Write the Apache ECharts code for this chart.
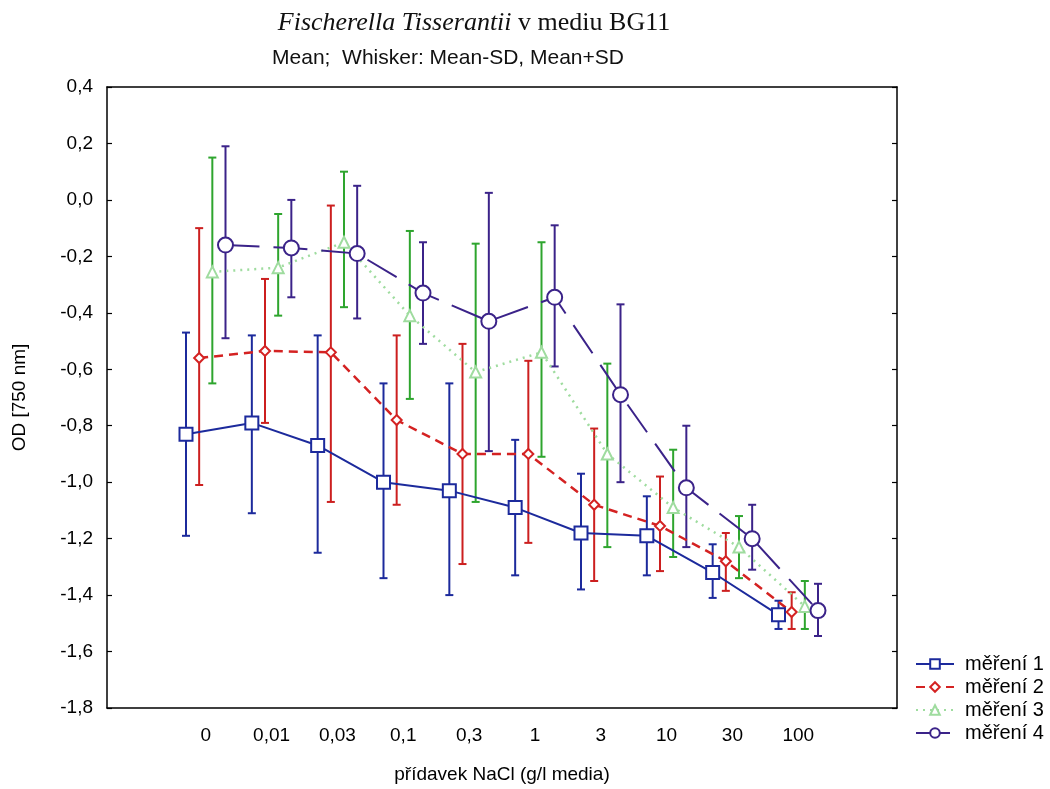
<!DOCTYPE html>
<html><head><meta charset="utf-8">
<script src="https://cdn.jsdelivr.net/npm/echarts@6/dist/echarts.min.js"></script>
<style>html,body{margin:0;padding:0;background:#fff}#c{width:1050px;height:789px}</style>
</head><body><div id="c"></div>
<script>
// Categories (blank slots at both ends, as in the original axis)
const categories = ['', '0', '0,01', '0,03', '0,1', '0,3', '1', '3', '10', '30', '100', ''];
const seriesNames = ['měření 1', 'měření 2', 'měření 3', 'měření 4'];
const yTicks = [-1.8, -1.6, -1.4, -1.2, -1.0, -0.8, -0.6, -0.4, -0.2, 0.0, 0.2, 0.4];

// měření 1
const mean1 = [-0.83, -0.79, -0.87, -1.00, -1.03, -1.09, -1.18, -1.19, -1.32, -1.47];
const low1  = [-1.19, -1.11, -1.25, -1.34, -1.40, -1.33, -1.38, -1.33, -1.41, -1.52];
const high1 = [-0.47, -0.48, -0.48, -0.65, -0.65, -0.85, -0.97, -1.05, -1.22, -1.42];
// měření 2
const mean2 = [-0.56, -0.535, -0.54, -0.78, -0.90, -0.90, -1.08, -1.155, -1.28, -1.46];
const low2  = [-1.01, -0.79, -1.07, -1.08, -1.29, -1.215, -1.35, -1.315, -1.385, -1.52];
const high2 = [-0.10, -0.28, -0.02, -0.48, -0.51, -0.57, -0.81, -0.98, -1.18, -1.39];
// měření 3
const mean3 = [-0.255, -0.24, -0.15, -0.41, -0.61, -0.54, -0.90, -1.09, -1.23, -1.44];
const low3  = [-0.65, -0.41, -0.38, -0.705, -1.07, -0.91, -1.23, -1.265, -1.34, -1.52];
const high3 = [0.15, -0.05, 0.10, -0.11, -0.155, -0.15, -0.58, -0.885, -1.12, -1.35];
// měření 4
const mean4 = [-0.16, -0.17, -0.19, -0.33, -0.43, -0.345, -0.69, -1.02, -1.20, -1.455];
const low4  = [-0.49, -0.345, -0.42, -0.51, -0.89, -0.59, -1.00, -1.23, -1.31, -1.545];
const high4 = [0.19, 0.00, 0.05, -0.15, 0.025, -0.09, -0.37, -0.80, -1.08, -1.36];

const means = [mean1, mean2, mean3, mean4];
const lows = [low1, low2, low3, low4];
const highs = [high1, high2, high3, high4];

// styling
const offsets = [-0.3, -0.1, 0.1, 0.3];
const lineColors = ['#1c2a9c', '#d42222', '#9fdc9f', '#3b2389'];
const errColors = ['#1c2a9c', '#cc1f1f', '#2ea52e', '#3b2389'];
const lineTypes = ['solid', [9, 6], [2, 5], [34, 14]];
const lineWidths = [2, 2.5, 2.5, 2];
const symbols = ['rect', 'diamond', 'triangle', 'circle'];
const symbolSizes = [13, 10, 11, 15];

const FONT = 'Liberation Sans, Arial, sans-serif';
const SERIF = 'Liberation Serif, Times New Roman, serif';

function renderErr(params, api) {
  const x = api.value(0), lo = api.value(1), hi = api.value(2);
  const p1 = api.coord([x, hi]), p2 = api.coord([x, lo]);
  const w = 4;
  const style = { stroke: api.visual('color'), lineWidth: 2 };
  return {
    type: 'group', children: [
      { type: 'line', shape: { x1: p1[0], y1: p1[1], x2: p2[0], y2: p2[1] }, style: style },
      { type: 'line', shape: { x1: p1[0] - w, y1: p1[1], x2: p1[0] + w, y2: p1[1] }, style: style },
      { type: 'line', shape: { x1: p2[0] - w, y1: p2[1], x2: p2[0] + w, y2: p2[1] }, style: style }
    ]
  };
}

const series = [];
for (let s = 0; s < 4; s++) {
  series.push({
    name: 'err' + s,
    type: 'custom',
    xAxisIndex: 2, yAxisIndex: 0,
    renderItem: renderErr,
    itemStyle: { color: errColors[s] },
    data: means[s].map((v, j) => [j + offsets[s], lows[s][j], highs[s][j]]),
    z: 2, silent: true
  });
}
for (let s = 0; s < 4; s++) {
  series.push({
    name: seriesNames[s],
    type: 'line',
    xAxisIndex: 2, yAxisIndex: 0,
    data: means[s].map((v, j) => [j + offsets[s], v]),
    symbol: symbols[s],
    symbolSize: symbolSizes[s],
    showAllSymbol: true,
    lineStyle: { color: lineColors[s], width: lineWidths[s], type: lineTypes[s] },
    itemStyle: { color: '#ffffff', borderColor: lineColors[s], borderWidth: 2 },
    z: 3, silent: true, animation: false
  });
}

const axisLineStyle = { color: '#000', width: 1.5 };
const tickStyle = { color: '#000', width: 1.2 };

const option = {
  animation: false,
  backgroundColor: '#ffffff',
  title: [
    {
      text: '{i|Fischerella Tisserantii}{n| v mediu BG11}',
      left: 469, top: 5, textAlign: 'center',
      textStyle: {
        fontWeight: 'normal',
        rich: {
          i: { fontFamily: SERIF, fontStyle: 'italic', fontWeight: 'normal', fontSize: 26, color: '#111' },
          n: { fontFamily: SERIF, fontWeight: 'normal', fontSize: 26, color: '#111' }
        }
      }
    },
    {
      text: 'Mean;  Whisker: Mean-SD, Mean+SD',
      left: 443, top: 43, textAlign: 'center',
      textStyle: { fontFamily: FONT, fontSize: 21, fontWeight: 'normal', color: '#111' }
    }
  ],
  legend: {
    data: seriesNames,
    orient: 'vertical',
    left: 910, top: 649,
    itemWidth: 38, itemHeight: 12, itemGap: 3,
    textStyle: { fontFamily: FONT, fontSize: 20, color: '#000', padding: [0, 0, 0, 6] }
  },
  grid: { left: 107, right: 153, top: 87, bottom: 81, containLabel: false },
  xAxis: [
    {
      type: 'category', data: categories, position: 'bottom', boundaryGap: true,
      axisLine: { onZero: false, lineStyle: axisLineStyle },
      axisTick: { alignWithLabel: true, inside: true, length: 5, interval: 0, lineStyle: tickStyle },
      axisLabel: { interval: 0, color: '#000', fontFamily: FONT, fontSize: 19, margin: 18 },
      splitLine: { show: false },
      name: 'přídavek NaCl (g/l media)', nameLocation: 'middle', nameGap: 57,
      nameTextStyle: { fontFamily: FONT, fontSize: 19, color: '#000' }
    },
    {
      type: 'category', data: categories, position: 'top', boundaryGap: true,
      axisLine: { onZero: false, lineStyle: axisLineStyle },
      axisTick: { alignWithLabel: true, inside: true, length: 5, interval: 0, lineStyle: tickStyle },
      axisLabel: { show: false },
      splitLine: { show: false }
    },
    { type: 'value', min: -1.5, max: 10.5, show: false, axisLine: { onZero: false } }
  ],
  yAxis: [
    {
      type: 'value', min: -1.8, max: 0.4, interval: 0.2, position: 'left',
      axisLine: { show: true, onZero: false, lineStyle: axisLineStyle },
      axisTick: { show: true, inside: true, length: 5, lineStyle: tickStyle },
      axisLabel: {
        color: '#000', fontFamily: FONT, fontSize: 19, margin: 14,
        formatter: function (v) {
          const t = yTicks.reduce((a, b) => Math.abs(b - v) < Math.abs(a - v) ? b : a);
          return t.toFixed(1).replace('.', ',');
        }
      },
      splitLine: { show: false },
      name: 'OD [750 nm]', nameLocation: 'middle', nameGap: 78, nameRotate: 90,
      nameTextStyle: { fontFamily: FONT, fontSize: 19, color: '#000' }
    },
    {
      type: 'value', min: -1.8, max: 0.4, interval: 0.2, position: 'right',
      axisLine: { show: true, onZero: false, lineStyle: axisLineStyle },
      axisTick: { show: true, inside: true, length: 5, lineStyle: tickStyle },
      axisLabel: { show: false },
      splitLine: { show: false }
    }
  ],
  series: series
};

const chart = echarts.init(document.getElementById('c'), null, { renderer: 'canvas' });
chart.setOption(option);
</script>
</body></html>
